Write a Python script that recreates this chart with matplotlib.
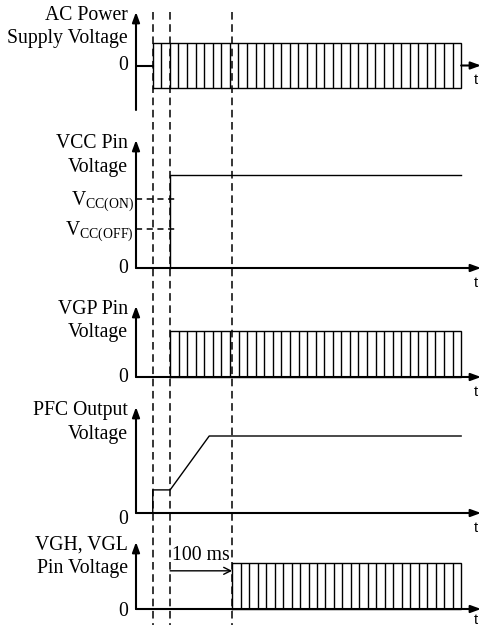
import numpy as np
import matplotlib
matplotlib.use("Agg")
import matplotlib.pyplot as plt

plt.rcParams['mathtext.fontset'] = 'custom'
plt.rcParams['mathtext.rm'] = 'Liberation Serif'
plt.rcParams['mathtext.it'] = 'Liberation Serif:italic'

# ---- data (time in ms, levels normalised) ----
T_MAX = 556
t_ac_on = 27        # AC supply applied
t_vcc_on = 55       # VCC reaches V_CC(ON)
t_pfc_done = 118    # PFC output reaches regulation
t_drive_on = 155    # VGH/VGL start (100 ms after VCC on)
t_end = 524
event_times = [t_ac_on, t_vcc_on, t_drive_on]

panel_titles = [["AC Power", "Supply Voltage"],
                ["VCC Pin", "Voltage"],
                ["VGP Pin", "Voltage"],
                ["PFC Output", "Voltage"],
                ["VGH, VGL", "Pin Voltage"]]
ac_amplitude = 1.0
ac_stripes = 36
vgp_stripes = 34
vgh_stripes = 27
vcc_high = 1.0
vcc_on_level = 0.742
vcc_off_level = 0.419
vcc_labels = [r"V$_{\mathrm{CC(ON)}}$", r"V$_{\mathrm{CC(OFF)}}$"]
pfc_times = [t_ac_on, t_ac_on, t_vcc_on, t_pfc_done, t_end]
pfc_levels = [0, 0.30, 0.30, 1.0, 1.0]
delay_label = "100 ms"

# ---- layout (pixels) ----
W, H = 481, 627
X0, X1 = 136, 481
PX = (X1 - X0) / T_MAX
# (zero_px, unit_px, tip_px, bottom_px, axis_bottom_is_zero)
layout = [(65.5, 22.5, 12, 110, False),
          (268, 93, 140, 276, True),
          (377, 46, 306, 385, True),
          (513, 77, 407, 521, True),
          (609, 46, 542, 617, True)]

SERIF = 'Liberation Serif'
FS = 14.2
fig = plt.figure(figsize=(W / 100, H / 100), dpi=100)

axes = []
for (zero, unit, tip, bot, from_zero) in layout:
    ax = fig.add_axes([X0 / W, 1 - bot / H, (X1 - X0) / W, (bot - tip) / H])
    ylo = (zero - bot) / unit
    yhi = (zero - tip) / unit
    ax.set_xlim(0, T_MAX)
    ax.set_ylim(ylo, yhi)
    ax.axis('off')
    axes.append((ax, ylo, yhi, zero, unit, tip, from_zero))

arrow_kw = dict(arrowstyle='-|>,head_length=0.6,head_width=0.22', lw=1.5,
                color='black', shrinkA=0, shrinkB=0, mutation_scale=10)


def draw_axes(ax, ylo, yhi, from_zero, hline=True):
    ax.annotate('', xy=(0, yhi), xytext=(0, 0 if from_zero else ylo),
                arrowprops=arrow_kw, annotation_clip=False)
    if hline:
        ax.annotate('', xy=(T_MAX, 0), xytext=(0, 0),
                    arrowprops=arrow_kw, annotation_clip=False)


def draw_box(ax, a, b, lo, hi, n):
    ax.plot([a, a, b, b, a], [lo, hi, hi, lo, lo], color='black', lw=1.0,
            clip_on=False, solid_joinstyle='miter')
    xs = np.linspace(a, b, n + 1)[1:-1]
    ax.vlines(xs, lo, hi, color='black', lw=1.0, clip_on=False)


def titles(ax, tip, zero, unit, lines):
    for k, s in enumerate(lines):
        ypx = tip + 7.5 + 24 * k
        ax.text(-8 / PX, (zero - ypx) / unit, s, ha='right', va='baseline',
                fontsize=FS, family=SERIF)


def zero_label(ax, zero, unit, dy=0):
    ax.text(-8 / PX, -dy / unit, "0", ha='right', va='center',
            fontsize=FS, family=SERIF)


def t_label(ax, unit, dy=15):
    ax.text(T_MAX - 5 / PX, -dy / unit, "t", ha='center', va='center',
            fontsize=10.5, family='Liberation Sans')


# Panel 1: AC supply
ax, ylo, yhi, zero, unit, tip, fz = axes[0]
draw_axes(ax, ylo, yhi, fz, hline=False)
ax.plot([0, t_ac_on], [0, 0], color='black', lw=1.5)
ax.annotate('', xy=(T_MAX, 0), xytext=(t_end, 0), arrowprops=arrow_kw,
            annotation_clip=False)
draw_box(ax, t_ac_on, t_end, -ac_amplitude, ac_amplitude, ac_stripes)
titles(ax, tip, zero, unit, panel_titles[0])
zero_label(ax, zero, unit)
t_label(ax, unit, 15)

# Panel 2: VCC
ax, ylo, yhi, zero, unit, tip, fz = axes[1]
draw_axes(ax, ylo, yhi, fz)
ax.plot([t_vcc_on, t_vcc_on, t_end], [0, vcc_high, vcc_high], color='black', lw=1.0)
for lvl, lab in zip([vcc_on_level, vcc_off_level], vcc_labels):
    ax.plot([0, 65], [lvl, lvl], color='black', lw=1.1, ls=(0, (4, 3)))
    ax.text(-2 / PX, lvl - 6 / unit, lab, ha='right', va='baseline',
            fontsize=FS, family=SERIF)
titles(ax, tip, zero, unit, panel_titles[1])
zero_label(ax, zero, unit)
t_label(ax, unit, 15)

# Panel 3: VGP
ax, ylo, yhi, zero, unit, tip, fz = axes[2]
draw_axes(ax, ylo, yhi, fz)
draw_box(ax, t_vcc_on, t_end, 0, 1.0, vgp_stripes)
titles(ax, tip, zero, unit, panel_titles[2])
zero_label(ax, zero, unit)
t_label(ax, unit, 15)

# Panel 4: PFC output
ax, ylo, yhi, zero, unit, tip, fz = axes[3]
draw_axes(ax, ylo, yhi, fz)
ax.plot(pfc_times, pfc_levels, color='black', lw=1.0)
titles(ax, tip, zero, unit, panel_titles[3])
zero_label(ax, zero, unit, dy=6)
t_label(ax, unit, 15)

# Panel 5: VGH / VGL
ax, ylo, yhi, zero, unit, tip, fz = axes[4]
draw_axes(ax, ylo, yhi, fz)
draw_box(ax, t_drive_on, t_end, 0, 1.0, vgh_stripes)
ax.annotate('', xy=(t_drive_on, 0.83), xytext=(t_vcc_on, 0.83),
            arrowprops=dict(arrowstyle='->,head_length=0.5,head_width=0.25',
                            lw=1.0, color='black', shrinkA=0, shrinkB=0,
                            mutation_scale=10))
ax.text((t_vcc_on + t_drive_on) / 2, 1.065, delay_label, ha='center',
        va='baseline', fontsize=FS, family=SERIF)
titles(ax, tip, zero, unit, panel_titles[4])
zero_label(ax, zero, unit, dy=2)
t_label(ax, unit, 10.5)

# Dashed event lines through all panels
ov = fig.add_axes([X0 / W, 0, (X1 - X0) / W, 1])
ov.set_xlim(0, T_MAX)
ov.set_ylim(H, 0)
ov.axis('off')
ov.vlines(event_times, 12, 625, colors='black', lw=1.1, linestyles=[(0, (5, 3))])

fig.savefig("out.png", dpi=100)
